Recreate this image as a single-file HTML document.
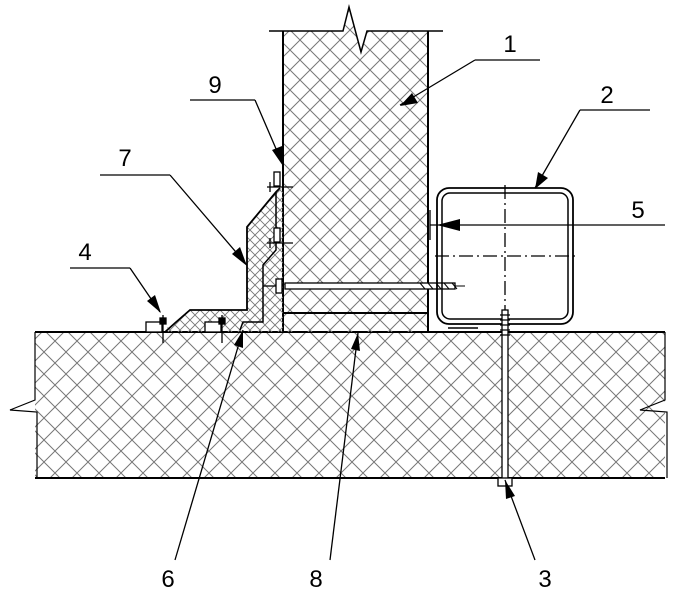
<!DOCTYPE html>
<html><head><style>html,body{margin:0;padding:0;background:#fff}svg{display:block}</style></head><body>
<svg width="694" height="600" viewBox="0 0 694 600" xmlns="http://www.w3.org/2000/svg" font-family="Liberation Sans, sans-serif">
<defs>
<pattern id="h" width="22" height="22" patternUnits="userSpaceOnUse">
<path d="M0 0L22 22M22 0L0 22" stroke="#777" stroke-width="1"/>
</pattern>
<pattern id="hw" width="20" height="20" patternUnits="userSpaceOnUse">
<path d="M0 0L20 20M20 0L0 20" stroke="#777" stroke-width="1"/>
</pattern>
<pattern id="h2" width="10" height="10" patternUnits="userSpaceOnUse">
<path d="M0 0L10 10M10 0L0 10" stroke="#777" stroke-width="0.9"/>
</pattern>
</defs>
<g stroke="#000" fill="none">
<rect x="35" y="332" width="630" height="146" fill="url(#h)" stroke="none"/>
<line x1="35" y1="332" x2="665" y2="332" stroke-width="2"/>
<line x1="35" y1="478" x2="665" y2="478" stroke-width="2"/>
<path d="M35 332V400L10 410L37 412V478" stroke-width="1.2"/>
<path d="M665 332V400L640 410L667 412V478" stroke-width="1.2"/>
<path d="M283 31H343L349 7L361 52L367 31H428V332H283Z" fill="url(#hw)" stroke="none"/>
<path d="M269 31H343L349 7L361 52L367 31H443" stroke-width="1.5"/>
<line x1="283" y1="31" x2="283" y2="332" stroke-width="2"/>
<line x1="428" y1="31" x2="428" y2="332" stroke-width="2"/>
<line x1="283" y1="313" x2="428" y2="313" stroke-width="2"/>
<path d="M283 188L276 192L247 227V310H190L175 323L160 332H283Z" fill="url(#h2)" stroke="none"/>
<path d="M280 188L276 192L247 227V310H190L175 323L165 332" stroke-width="1.8"/>
<path d="M276 192V250L263 265V322H243L240 330" stroke-width="1.5"/>
<g stroke-width="1.3">
<rect x="274" y="172" width="6" height="14" fill="#fff"/><line x1="267" y1="187" x2="293" y2="187"/><line x1="270" y1="182" x2="270" y2="192"/>
<rect x="274" y="228" width="6" height="14" fill="#fff"/><line x1="267" y1="243" x2="293" y2="243"/><line x1="270" y1="238" x2="270" y2="248"/>
<rect x="276" y="279" width="6" height="14" fill="#fff"/><line x1="263" y1="286" x2="276" y2="286"/>
</g>
<rect x="285" y="283" width="170" height="6" fill="#fff" stroke-width="1.3"/>
<path d="M420 283L425 289M428 283L433 289M436 283L441 289M444 283L449 289M452 283L457 289" stroke-width="1"/>
<line x1="455" y1="286" x2="465" y2="286" stroke-width="1"/>
<g stroke-width="1.3">
<rect x="146" y="322" width="16" height="10" fill="#fff"/><line x1="163" y1="315" x2="163" y2="343"/><rect x="160" y="318" width="6" height="6" fill="#000"/>
<rect x="205" y="322" width="16" height="10" fill="#fff"/><line x1="222" y1="315" x2="222" y2="343"/><rect x="219" y="318" width="6" height="6" fill="#000"/>
</g>
<rect x="437" y="188" width="136" height="136" rx="12" stroke-width="1.8"/>
<rect x="442" y="193" width="126" height="126" rx="8" stroke-width="1.5"/>
<line x1="505" y1="185" x2="505" y2="310" stroke-width="1.3" stroke-dasharray="14 4 2 4"/>
<line x1="435" y1="256" x2="575" y2="256" stroke-width="1.3" stroke-dasharray="14 4 2 4"/>
<line x1="448" y1="328" x2="478" y2="328" stroke-width="1.5"/>
<rect x="502" y="310" width="6" height="170" fill="#fff" stroke-width="1.3"/>
<path d="M500 315H510M500 320H510M500 325H510M500 330H510M500 335H510" stroke-width="1.2"/>
<rect x="498" y="478" width="14" height="8" fill="#fff" stroke-width="1.3"/>
<g stroke-width="1.3">
<path d="M475 60H540M475 60L400 105"/>
<path d="M580 110H650M580 110L535 188"/>
<path d="M430 225H665M430 210V240"/>
<path d="M190 100H255M255 100L283 165"/>
<path d="M100 175H170M170 175L247 265"/>
<path d="M70 268H130M130 268L160 312"/>
<path d="M175 560L243 330"/>
<path d="M330 560L358 333"/>
<path d="M535 560L505 480"/>
</g>
</g>
<g fill="#000">
<path d="M400 106L412 93L418 103Z"/>
<path d="M535 189L538 172L548 178Z"/>
<path d="M437 225L460 219V231Z"/>
<path d="M283 166L272 150L282 146Z"/>
<path d="M247 266L232 254L240 247Z"/>
<path d="M161 313L147 301L155 295Z"/>
<path d="M243 330L243 348L234 345Z"/>
<path d="M358 333L360 351L351 349Z"/>
<path d="M505 480L515 496L506 499Z"/>
</g>
<g font-size="24" fill="#000" text-anchor="middle">
<text x="510" y="52">1</text>
<text x="607" y="103">2</text>
<text x="638" y="218">5</text>
<text x="215" y="93">9</text>
<text x="125" y="166">7</text>
<text x="85" y="260">4</text>
<text x="168" y="587">6</text>
<text x="316" y="587">8</text>
<text x="545" y="587">3</text>
</g>
</svg>
</body></html>
